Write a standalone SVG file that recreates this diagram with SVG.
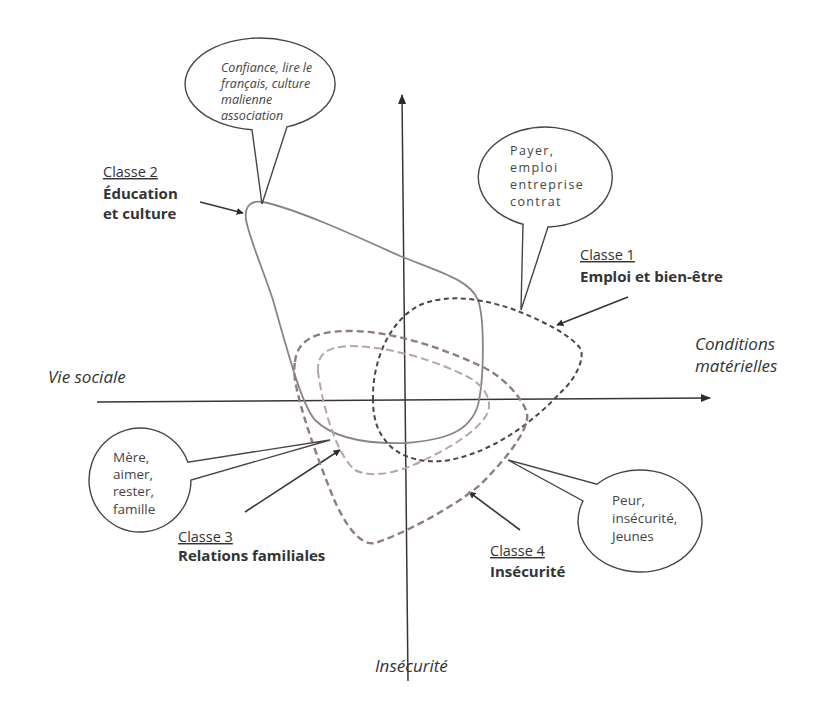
<svg xmlns="http://www.w3.org/2000/svg" width="817" height="704" viewBox="0 0 817 704">
<defs>
<marker id="ah" viewBox="0 0 10 10" refX="9" refY="5" markerWidth="7" markerHeight="7" orient="auto" markerUnits="userSpaceOnUse">
<path d="M0,0 L10,5 L0,10 Z" fill="#2e2a2a"/>
</marker>
<marker id="axh" viewBox="0 0 10 10" refX="9" refY="5" markerWidth="10" markerHeight="10" orient="auto" markerUnits="userSpaceOnUse">
<path d="M0,1 L10,5 L0,9 Z" fill="#2e2a2a"/>
</marker>
</defs>
<style>
.ax{stroke:#3a3434;stroke-width:1.5;fill:none}
.arr{stroke:#3a3434;stroke-width:1.6;fill:none;marker-end:url(#ah)}
.bub{stroke:#4a4444;stroke-width:1.4;fill:#fff}
.c2{stroke:#8e8383;stroke-width:1.8;fill:none}
.c1{stroke:#4d4545;stroke-width:2;fill:none;stroke-dasharray:5 3.5}
.c4{stroke:#8e7d7d;stroke-width:2.4;fill:none;stroke-dasharray:7 4}
.c3{stroke:#b8a4a4;stroke-width:2;fill:none;stroke-dasharray:8 4}
text{font-family:"Open Sans","Liberation Sans",sans-serif;fill:#333}
.bt{font-size:13.5px;fill:#444}
.bt1{font-size:12.5px;fill:#444;letter-spacing:1.4px}
.bti{font-size:12.5px;font-style:italic;fill:#444}
.cl{font-size:14.5px;text-decoration:underline}
.cb{font-size:15px;font-weight:bold}
.axl{font-size:17px;font-style:italic}
</style>
<rect width="817" height="704" fill="#fff"/>
<g id="connectors">
<line class="ax" x1="97" y1="402" x2="710" y2="398" marker-end="url(#axh)"/>
<line class="ax" x1="408" y1="681" x2="402" y2="95" marker-end="url(#axh)"/>
<line class="arr" x1="200" y1="202" x2="243" y2="213"/>
<line class="arr" x1="628" y1="297" x2="557" y2="325"/>
<line class="arr" x1="245" y1="512" x2="340" y2="450"/>
<line class="arr" x1="520" y1="530" x2="469" y2="492"/>
</g>
<g id="classe2-shape"><path class="c2" d="M263,202 C300,210 360,238 400,256 C440,272 470,280 478,300 C485,320 484,380 478,405 C470,432 445,440 405,443 C370,444 335,440 315,420 C302,405 290,360 273,300 C265,275 250,240 246,220 C244,205 252,200 263,202 Z"/></g>
<g id="classe1-shape"><path class="c1" d="M373,400 C372,360 390,320 420,305 C450,292 490,300 520,312 C545,322 570,335 580,348 C586,358 575,380 560,393 C540,415 500,450 450,460 C420,465 395,455 385,440 C375,428 373,412 373,400 Z"/></g>
<g id="classe4-shape"><path class="c4" d="M295,362 C297,340 315,332 345,331 C390,330 440,347 483,367 C505,378 522,398 527,413 C530,430 505,460 480,485 C450,510 400,535 375,543 C360,546 345,525 333,497 C318,460 300,410 295,380 C294,372 294,367 295,362 Z"/></g>
<g id="classe3-shape"><path class="c3" d="M318,372 C317,355 325,347 350,346 C390,346 440,362 470,378 C485,387 492,400 488,412 C480,430 450,448 420,462 C395,474 370,478 355,470 C340,458 325,420 318,372 Z"/></g>
<g id="bubble-classe2">
<path class="bub" d="M252,129.7 A75 46 0 1 1 287,126.9 L262,204 Z"/>
<text class="bti" x="221" y="72">Confiance, lire le</text>
<text class="bti" x="221" y="88">français, culture</text>
<text class="bti" x="221" y="104">malienne</text>
<text class="bti" x="221" y="120">association</text>
</g>
<g id="bubble-classe1">
<path class="bub" d="M523,224.2 A67 50 0 1 1 548,227 L521,310 Z"/>
<text class="bt1" x="510" y="155">Payer,</text>
<text class="bt1" x="510" y="172">emploi</text>
<text class="bt1" x="510" y="189">entreprise</text>
<text class="bt1" x="510" y="206">contrat</text>
</g>
<g id="bubble-classe3">
<path class="bub" d="M191,480 A51 52 0 1 1 187.9,462.2 L330,440 Z"/>
<text class="bt" x="113" y="462">Mère,</text>
<text class="bt" x="113" y="479">aimer,</text>
<text class="bt" x="113" y="496">rester,</text>
<text class="bt" x="113" y="514">famille</text>
</g>
<g id="bubble-classe4">
<path class="bub" d="M597,484.3 A62 51 0 1 1 583,501 L508,460 Z"/>
<text class="bt" x="612" y="505">Peur,</text>
<text class="bt" x="612" y="523">insécurité,</text>
<text class="bt" x="612" y="541">Jeunes</text>
</g>
<g id="label-classe2">
<text class="cl" x="103" y="177">Classe 2</text>
<text class="cb" x="103" y="199">Éducation</text>
<text class="cb" x="103" y="219">et culture</text>
</g>
<g id="label-classe1">
<text class="cl" x="580" y="260">Classe 1</text>
<text class="cb" x="580" y="282">Emploi et bien-être</text>
</g>
<g id="label-classe3">
<text class="cl" x="178" y="542">Classe 3</text>
<text class="cb" x="178" y="561">Relations familiales</text>
</g>
<g id="label-classe4">
<text class="cl" x="490" y="556">Classe 4</text>
<text class="cb" x="490" y="577">Insécurité</text>
</g>
<g id="axis-labels">
<text class="axl" x="48" y="383">Vie sociale</text>
<text class="axl" x="695" y="350">Conditions</text>
<text class="axl" x="695" y="372">matérielles</text>
<text class="axl" x="375" y="672">Insécurité</text>
</g>
</svg>
